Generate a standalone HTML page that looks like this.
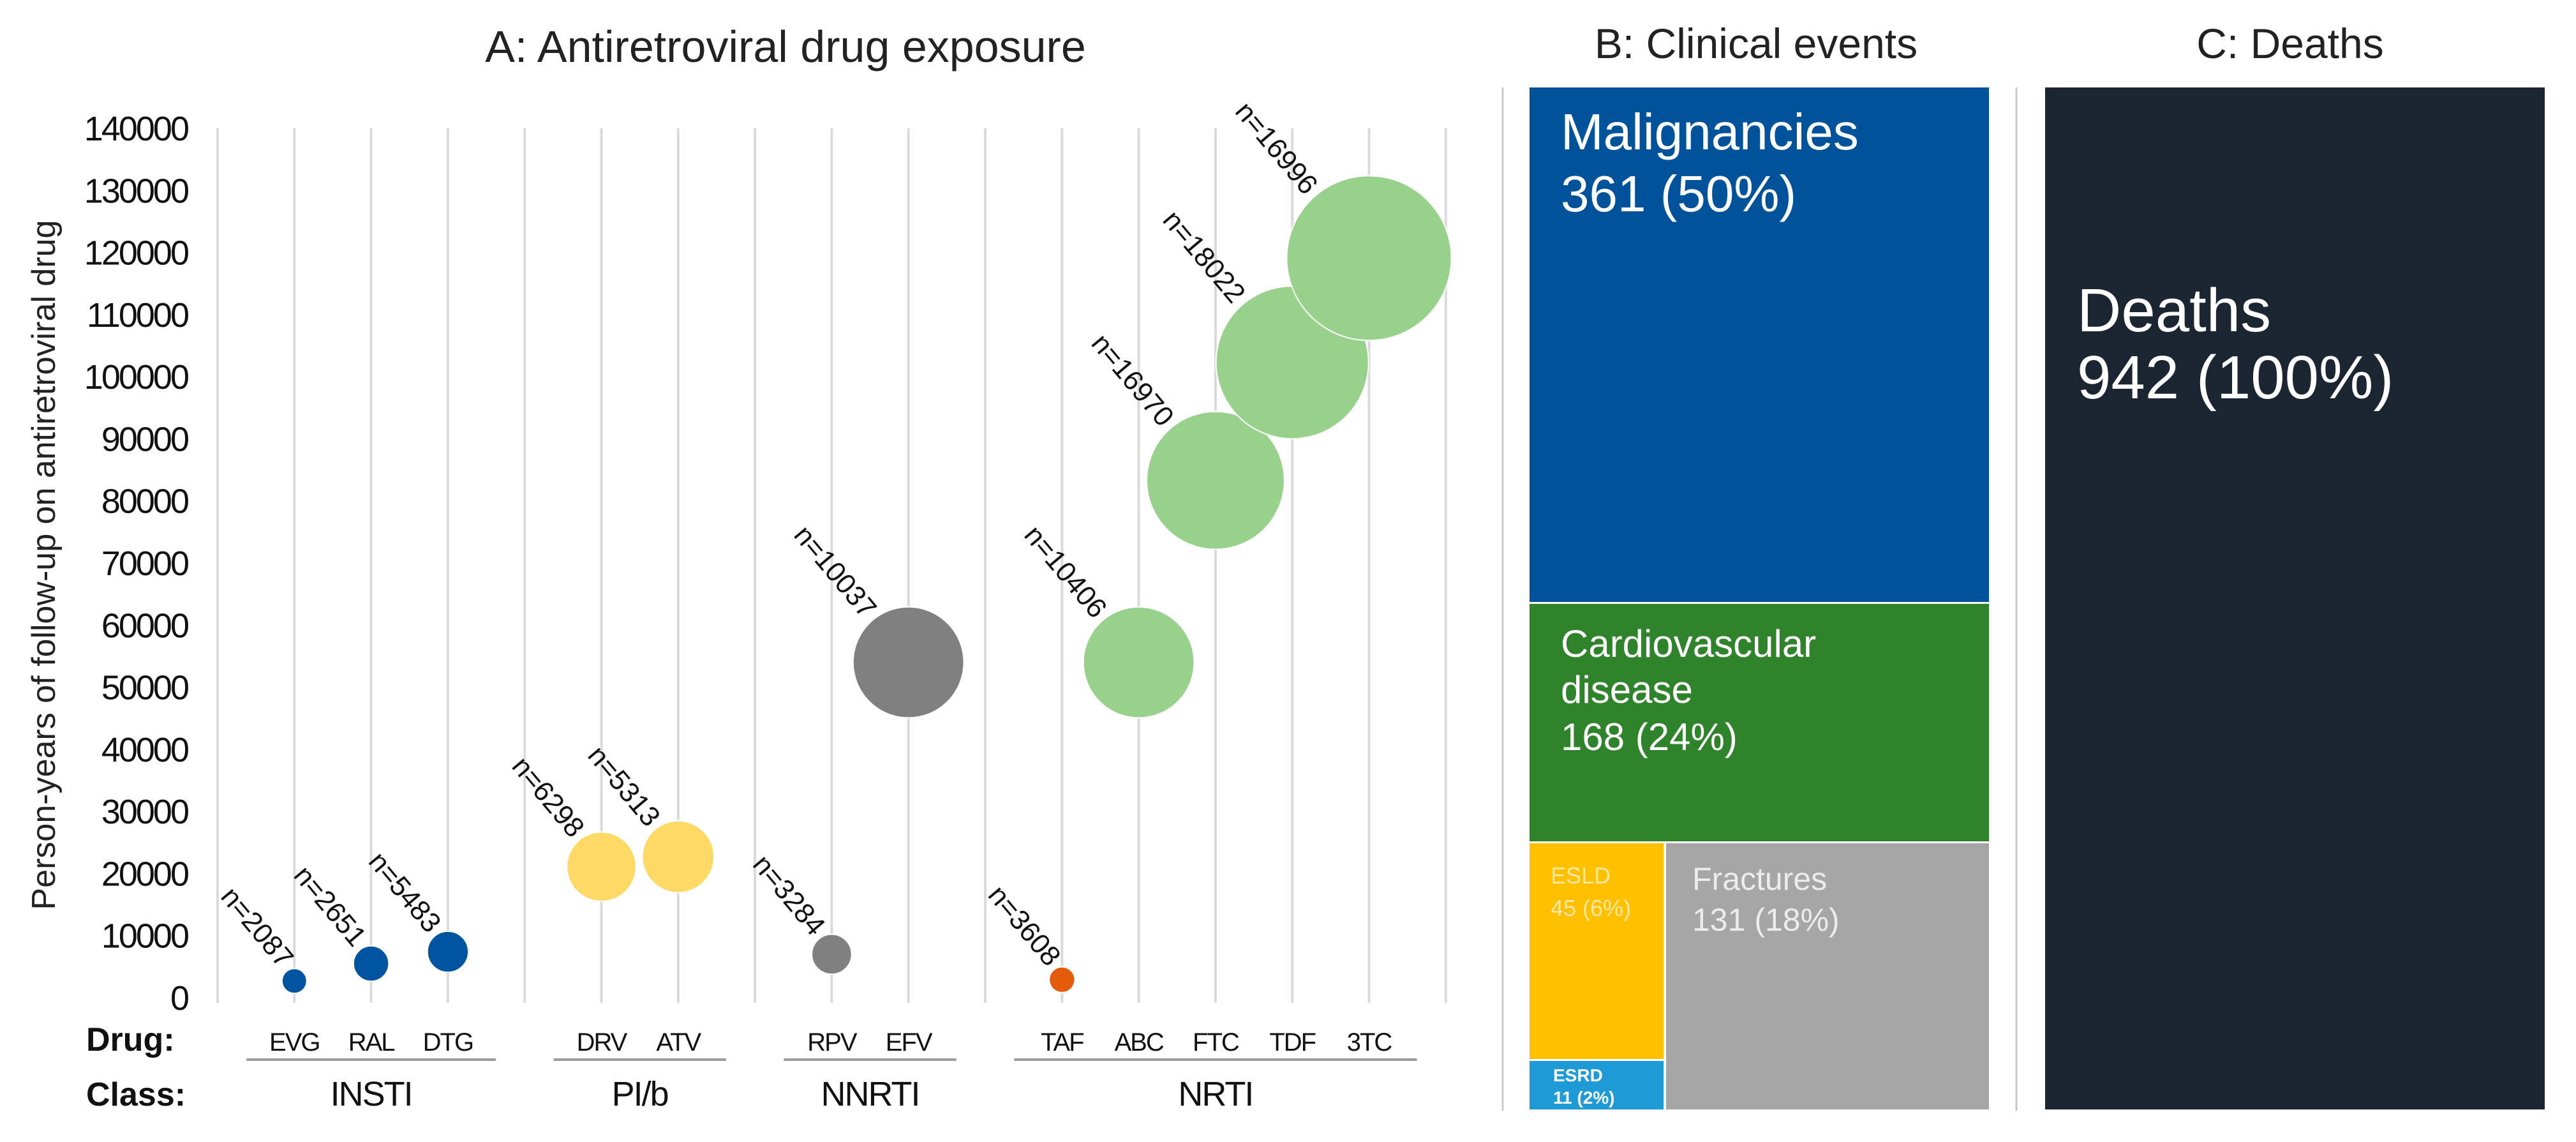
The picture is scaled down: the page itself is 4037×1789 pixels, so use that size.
<!DOCTYPE html>
<html><head><meta charset="utf-8"><style>
html,body{margin:0;padding:0;background:#fff;}
svg{display:block;font-family:"Liberation Sans",sans-serif;}
</style></head><body>
<svg id="chart" width="4037" height="1789" viewBox="0 0 4037 1789">
<g id="panelA"></g>
<g id="panelB">
<text x="2752" y="91" font-size="66" text-anchor="middle" fill="#222">B: Clinical events</text>
<line x1="2355" y1="137" x2="2355" y2="1740" stroke="#c8c8c8" stroke-width="3"/>
<line x1="3160" y1="137" x2="3160" y2="1740" stroke="#c8c8c8" stroke-width="3"/>
<rect x="2397" y="137" width="720" height="806" fill="#00529b"/>
<text x="2446" y="234" font-size="80" fill="#fff">Malignancies</text>
<text x="2446" y="331" font-size="80" fill="#fff">361 (50%)</text>
<rect x="2397" y="946" width="720" height="372" fill="#2f832b"/>
<text x="2446" y="1029" font-size="60" fill="#fff">Cardiovascular</text>
<text x="2446" y="1101" font-size="60" fill="#fff">disease</text>
<text x="2446" y="1175" font-size="60" fill="#fff">168 (24%)</text>
<rect x="2397" y="1321" width="210" height="338" fill="#ffc000"/>
<text x="2430" y="1384" font-size="36" fill="#fbe7a6">ESLD</text>
<text x="2430" y="1435" font-size="36" fill="#fbe7a6">45 (6%)</text>
<rect x="2397" y="1662" width="210" height="76" fill="#1e9ad6"/>
<text x="2434" y="1694" font-size="28" font-weight="bold" fill="#fff">ESRD</text>
<text x="2434" y="1729" font-size="28" font-weight="bold" fill="#fff">11 (2%)</text>
<rect x="2611" y="1321" width="506" height="417" fill="#a6a6a6"/>
<text x="2652" y="1394" font-size="50" fill="#ececec">Fractures</text>
<text x="2652" y="1458" font-size="50" fill="#ececec">131 (18%)</text>
</g>
<g id="panelC">
<text x="3589" y="91" font-size="66" text-anchor="middle" fill="#222">C: Deaths</text>
<rect x="3205" y="137" width="783" height="1601" fill="#1b2632"/>
<text x="3255" y="519" font-size="96" fill="#fff">Deaths</text>
<text x="3255" y="624" font-size="96" fill="#fff">942 (100%)</text>
</g>
</svg>
<script>
const categories = ["", "EVG", "RAL", "DTG", "", "DRV", "ATV", "", "RPV", "EFV", "", "TAF", "ABC", "FTC", "TDF", "3TC", ""];
const drugNames = ["EVG", "RAL", "DTG", "DRV", "ATV", "RPV", "EFV", "TAF", "ABC", "FTC", "TDF", "3TC"];
const personYears = [2700, 5500, 7400, 21100, 22700, 7000, 54000, 2900, 54000, 83300, 102300, 119100];
const patientCounts = [2087, 2651, 5483, 6298, 5313, 3284, 10037, 3608, 10406, 16970, 18022, 16996];
const drugClass = ["INSTI", "INSTI", "INSTI", "PI/b", "PI/b", "NNRTI", "NNRTI", "NRTI", "NRTI", "NRTI", "NRTI", "NRTI"];
const classNames = ["INSTI", "PI/b", "NNRTI", "NRTI"];
const yTicks = [0, 10000, 20000, 30000, 40000, 50000, 60000, 70000, 80000, 90000, 100000, 110000, 120000, 130000, 140000];

const NS = "http://www.w3.org/2000/svg";
const g = document.getElementById("panelA");
const x0 = 341, dx = 120.3, yBase = 1563, yTop = 201, yMax = 140000;
function xPos(i){ return x0 + i * dx; }
function yPos(v){ return yBase - (v / yMax) * (yBase - yTop); }
// bubble area proportional to person-years
const maxPY = Math.max(...personYears);
function rad(v){ return 129 * Math.sqrt(v / maxPY); }
const colors = {"INSTI":"#0054a0","PI/b":"#ffd966","NNRTI":"#808080","NRTI":"#97d18b"};
function mk(tag, attrs, parent){ const e = document.createElementNS(NS, tag); for (const k in attrs) e.setAttribute(k, attrs[k]); (parent||g).appendChild(e); return e; }

let t = mk("text", {x:1231, y:97, "font-size":70, "text-anchor":"middle", fill:"#222"});


t.textContent = "A: Antiretroviral drug exposure";

categories.forEach((c, i) => {
  const l = mk("line", {x1:xPos(i), x2:xPos(i), y1:yTop, y2:yBase+8, stroke:"#dadada", "stroke-width":4});
  
  
});
yTicks.forEach(v => {
  const e = mk("text", {x:294, y:yPos(v)+19, "font-size":54, "text-anchor":"end", fill:"#111", "letter-spacing":"-3"});
  
  
  e.textContent = v;
});
t = mk("text", {x:0, y:0, "font-size":52, "text-anchor":"middle", fill:"#222", transform:"translate(86,885) rotate(-90)"});


t.textContent = "Person-years of follow-up on antiretroviral drug";

drugNames.forEach((d, k) => {
  const i = categories.indexOf(d);
  const cx = xPos(i), cy = yPos(personYears[k]), r = rad(personYears[k]);
  const col = d === "TAF" ? "#e45b0c" : colors[drugClass[k]];
  const c = mk("circle", {cx:cx, cy:cy, r:r, fill:col, stroke:"#fff", "stroke-width":2});
  
  
  const lx = cx - r*0.72 - 8, ly = cy - r*0.72 - 4;
  const lab = mk("text", {x:0, y:0, "font-size":44, "text-anchor":"end", fill:"#111", transform:"translate("+lx+","+ly+") rotate(50)"});
  
  
  lab.textContent = "n=" + patientCounts[k];
  const dl = mk("text", {x:cx, y:1646, "font-size":40, "text-anchor":"middle", fill:"#111", "letter-spacing":"-2"});
  
  
  dl.textContent = d;
});
classNames.forEach(cn => {
  const idx = drugClass.map((c,k)=>c===cn?categories.indexOf(drugNames[k]):-1).filter(v=>v>=0);
  const a = xPos(Math.min(...idx)) - 75, b = xPos(Math.max(...idx)) + 75;
  const l = mk("line", {x1:a, x2:b, y1:1660, y2:1660, stroke:"#9a9a9a", "stroke-width":4});
  
  
  const e = mk("text", {x:(a+b)/2, y:1732, "font-size":54, "text-anchor":"middle", fill:"#111", "letter-spacing":"-2"});
  
  
  e.textContent = cn;
});
t = mk("text", {x:135, y:1646, "font-size":52, "font-weight":"bold", fill:"#111"});


t.textContent = "Drug:";
t = mk("text", {x:135, y:1732, "font-size":52, "font-weight":"bold", fill:"#111"});


t.textContent = "Class:";
</script>
</body></html>
